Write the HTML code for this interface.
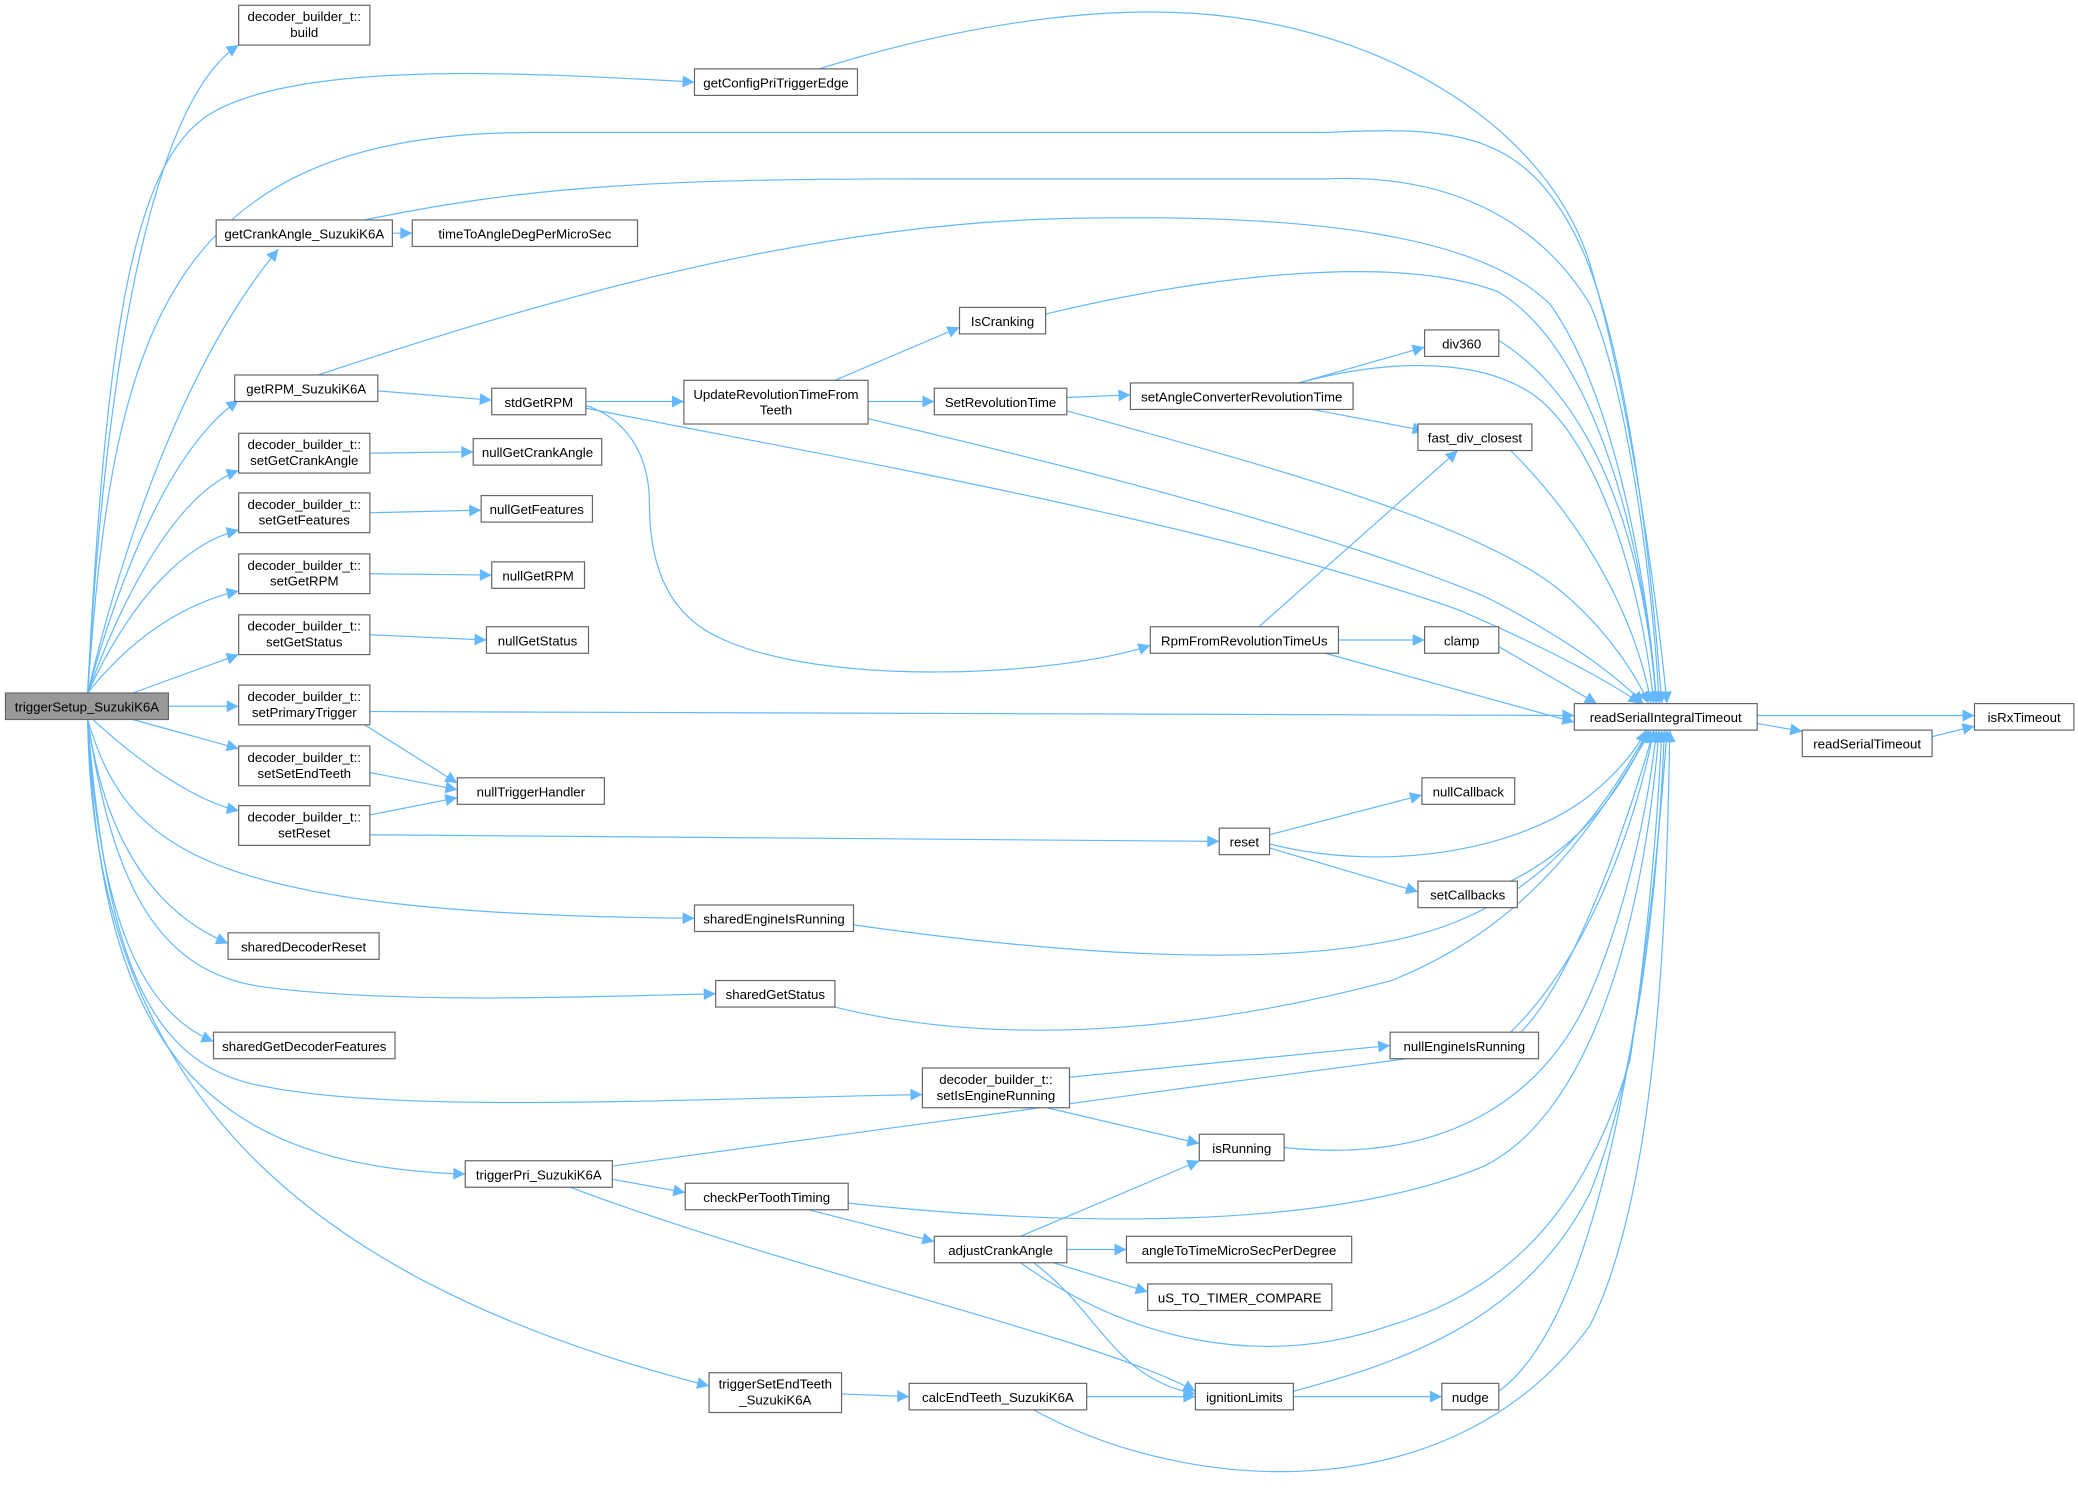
<!DOCTYPE html>
<html><head><meta charset="utf-8"><style>
html,body{margin:0;padding:0;background:#fff}
svg{display:block}
text{font-family:"Liberation Sans",Arial,sans-serif;font-size:10px;fill:#000;text-anchor:middle}
.b{fill:#fff;stroke:#666;stroke-width:0.9}
.e{fill:none;stroke:#63b8ff;stroke-width:0.9;marker-end:url(#a)}
</style></head><body>
<svg width="2078" height="1492" viewBox="0 0 1568 1126" xmlns="http://www.w3.org/2000/svg">
<defs><marker id="a" viewBox="0 0 10 10" refX="10" refY="5" markerWidth="11" markerHeight="9" markerUnits="userSpaceOnUse" orient="auto"><path d="M0,0 L10,5 L0,10 z" fill="#63b8ff"/></marker></defs>
<g>
<path class="e" d="M66,523 C78,300 110,80 180,34"/>
<path class="e" d="M66,523 C80,250 100,120 160,85 C230,45 400,55 524,62"/>
<path class="e" d="M66,523 C85,260 120,100 400,100 L1000,100 C1100,95 1150,100 1190,180 C1230,260 1248,450 1254,531"/>
<path class="e" d="M66,523 C100,380 150,260 210,188"/>
<path class="e" d="M66,523 C100,400 140,330 180,302"/>
<path class="e" d="M66,523 C100,430 140,370 180,355"/>
<path class="e" d="M66,523 C100,450 140,410 180,400"/>
<path class="e" d="M66,523 C100,480 140,455 180,446"/>
<path class="e" d="M100,523 L180,494"/>
<path class="e" d="M127,533 L180,533"/>
<path class="e" d="M100,543 L180,565"/>
<path class="e" d="M70,543 C110,580 150,605 180,612"/>
<path class="e" d="M66,543 C95,640 150,690 524,693"/>
<path class="e" d="M66,543 C80,640 120,690 172,712"/>
<path class="e" d="M66,543 C85,670 120,735 200,745 C300,758 450,752 540,750"/>
<path class="e" d="M66,543 C75,700 110,765 161,786"/>
<path class="e" d="M66,543 C80,720 110,805 200,820 C300,840 500,830 696,826"/>
<path class="e" d="M66,543 C75,760 130,880 351,886"/>
<path class="e" d="M66,543 C70,800 200,960 535,1046"/>
<path class="e" d="M618,52 C720,20 820,5 900,10 C1050,20 1170,100 1200,200 C1230,300 1250,450 1258,531"/>
<path class="e" d="M275,166 C400,140 500,135 700,135 L1000,135 C1110,130 1170,180 1200,230 C1230,300 1248,450 1252,531"/>
<path class="e" d="M296,176 L311,176"/>
<path class="e" d="M240,283 C400,230 600,170 800,165 C1000,160 1120,180 1170,230 C1220,300 1245,450 1250,531"/>
<path class="e" d="M285,295 L371,302"/>
<path class="e" d="M442,303 L516,303"/>
<path class="e" d="M442,308 C600,340 900,390 1100,460 C1170,490 1215,515 1238,531"/>
<path class="e" d="M442,306 C470,315 490,340 490,380 C490,420 500,460 540,480 C620,520 800,510 868,487"/>
<path class="e" d="M630,287 L724,247"/>
<path class="e" d="M655,303 L705,303"/>
<path class="e" d="M655,316 C800,350 1000,400 1120,450 C1180,480 1220,510 1240,531"/>
<path class="e" d="M789,237 C900,210 1050,190 1130,220 C1200,260 1240,400 1250,531"/>
<path class="e" d="M805,300 L853,298"/>
<path class="e" d="M805,310 C950,350 1100,390 1170,440 C1210,470 1235,510 1244,531"/>
<path class="e" d="M980,289 L1075,262"/>
<path class="e" d="M990,309 L1075,325"/>
<path class="e" d="M980,289 C1050,270 1120,270 1160,300 C1210,340 1240,450 1248,531"/>
<path class="e" d="M1131,257 C1200,300 1240,400 1250,531"/>
<path class="e" d="M1140,340 C1200,400 1235,470 1246,531"/>
<path class="e" d="M950,473 L1100,340"/>
<path class="e" d="M1010,483 L1075,483"/>
<path class="e" d="M1000,493 L1188,545"/>
<path class="e" d="M1131,488 L1205,531"/>
<path class="e" d="M279,342 L357,341"/>
<path class="e" d="M279,387 L363,385"/>
<path class="e" d="M279,433 L371,434"/>
<path class="e" d="M279,479 L367,483"/>
<path class="e" d="M279,537 L1188,540"/>
<path class="e" d="M275,547 L345,591"/>
<path class="e" d="M279,583 L345,596"/>
<path class="e" d="M279,615 L345,602"/>
<path class="e" d="M279,630 L920,635"/>
<path class="e" d="M958,630 L1073,600"/>
<path class="e" d="M958,640 L1070,673"/>
<path class="e" d="M958,637 C1050,660 1150,640 1200,600 C1225,580 1238,560 1242,551"/>
<path class="e" d="M1140,665 C1190,640 1222,600 1244,551"/>
<path class="e" d="M644,698 C800,720 950,730 1050,710 C1150,690 1200,630 1244,551"/>
<path class="e" d="M630,760 C750,790 900,780 1050,740 C1150,700 1200,630 1246,551"/>
<path class="e" d="M807,813 L1049,789"/>
<path class="e" d="M790,836 L905,863"/>
<path class="e" d="M1140,779 C1200,720 1235,620 1248,551"/>
<path class="e" d="M969,866 C1100,880 1170,820 1200,750 C1230,680 1245,600 1250,551"/>
<path class="e" d="M462,880 C600,860 900,820 1130,790 C1170,780 1220,650 1248,551"/>
<path class="e" d="M462,890 L517,900"/>
<path class="e" d="M430,896 C600,960 830,1010 902,1050"/>
<path class="e" d="M610,913 L705,937"/>
<path class="e" d="M640,908 C800,925 1000,930 1120,880 C1200,840 1240,700 1252,551"/>
<path class="e" d="M770,933 L905,876"/>
<path class="e" d="M805,943 L850,943"/>
<path class="e" d="M795,953 L866,975"/>
<path class="e" d="M780,953 C830,990 840,1040 902,1052"/>
<path class="e" d="M770,953 C850,1010 950,1035 1050,1000 C1150,970 1200,900 1230,800 C1245,700 1252,600 1254,551"/>
<path class="e" d="M635,1052 L686,1054"/>
<path class="e" d="M820,1054 L902,1054"/>
<path class="e" d="M780,1064 C900,1130 1100,1140 1200,1000 C1250,900 1258,700 1260,551"/>
<path class="e" d="M976,1054 L1088,1054"/>
<path class="e" d="M976,1050 C1050,1030 1150,1000 1200,900 C1240,800 1252,650 1256,551"/>
<path class="e" d="M1131,1050 C1200,1000 1240,800 1258,551"/>
<path class="e" d="M1326,540 L1490,540"/>
<path class="e" d="M1326,546 L1360,552"/>
<path class="e" d="M1458,556 L1490,548"/>
</g>
<g>
<rect x="4" y="523" width="123" height="20" fill="#999" stroke="#666" stroke-width="0.9"/><text x="65.5" y="537">triggerSetup_SuzukiK6A</text>
<rect class="b" x="180" y="4" width="99" height="30"/><text x="229.5" y="16">decoder_builder_t::</text><text x="229.5" y="28">build</text>
<rect class="b" x="524" y="52" width="123" height="20"/><text x="585.5" y="66">getConfigPriTriggerEdge</text>
<rect class="b" x="163" y="166" width="133" height="20"/><text x="229.5" y="180">getCrankAngle_SuzukiK6A</text>
<rect class="b" x="311" y="166" width="170" height="20"/><text x="396" y="180">timeToAngleDegPerMicroSec</text>
<rect class="b" x="177" y="283" width="108" height="20"/><text x="231" y="297">getRPM_SuzukiK6A</text>
<rect class="b" x="371" y="293" width="71" height="20"/><text x="406.5" y="307">stdGetRPM</text>
<rect class="b" x="516" y="287" width="139" height="33"/><text x="585.5" y="301">UpdateRevolutionTimeFrom</text><text x="585.5" y="313">Teeth</text>
<rect class="b" x="724" y="232" width="65" height="20"/><text x="756.5" y="246">IsCranking</text>
<rect class="b" x="705" y="293" width="100" height="20"/><text x="755" y="307">SetRevolutionTime</text>
<rect class="b" x="853" y="289" width="168" height="20"/><text x="937" y="303">setAngleConverterRevolutionTime</text>
<rect class="b" x="1075" y="249" width="56" height="20"/><text x="1103" y="263">div360</text>
<rect class="b" x="1070" y="320" width="86" height="20"/><text x="1113" y="334">fast_div_closest</text>
<rect class="b" x="180" y="327" width="99" height="30"/><text x="229.5" y="339">decoder_builder_t::</text><text x="229.5" y="351">setGetCrankAngle</text>
<rect class="b" x="357" y="331" width="97" height="20"/><text x="405.5" y="345">nullGetCrankAngle</text>
<rect class="b" x="180" y="372" width="99" height="30"/><text x="229.5" y="384">decoder_builder_t::</text><text x="229.5" y="396">setGetFeatures</text>
<rect class="b" x="363" y="374" width="84" height="20"/><text x="405" y="388">nullGetFeatures</text>
<rect class="b" x="180" y="418" width="99" height="30"/><text x="229.5" y="430">decoder_builder_t::</text><text x="229.5" y="442">setGetRPM</text>
<rect class="b" x="371" y="424" width="70" height="20"/><text x="406" y="438">nullGetRPM</text>
<rect class="b" x="180" y="464" width="99" height="30"/><text x="229.5" y="476">decoder_builder_t::</text><text x="229.5" y="488">setGetStatus</text>
<rect class="b" x="367" y="473" width="77" height="20"/><text x="405.5" y="487">nullGetStatus</text>
<rect class="b" x="180" y="517" width="99" height="30"/><text x="229.5" y="529">decoder_builder_t::</text><text x="229.5" y="541">setPrimaryTrigger</text>
<rect class="b" x="180" y="563" width="99" height="30"/><text x="229.5" y="575">decoder_builder_t::</text><text x="229.5" y="587">setSetEndTeeth</text>
<rect class="b" x="345" y="587" width="111" height="20"/><text x="400.5" y="601">nullTriggerHandler</text>
<rect class="b" x="180" y="608" width="99" height="30"/><text x="229.5" y="620">decoder_builder_t::</text><text x="229.5" y="632">setReset</text>
<rect class="b" x="920" y="625" width="38" height="20"/><text x="939" y="639">reset</text>
<rect class="b" x="1073" y="587" width="70" height="20"/><text x="1108" y="601">nullCallback</text>
<rect class="b" x="1070" y="665" width="75" height="20"/><text x="1107.5" y="679">setCallbacks</text>
<rect class="b" x="868" y="473" width="142" height="20"/><text x="939" y="487">RpmFromRevolutionTimeUs</text>
<rect class="b" x="1075" y="473" width="56" height="20"/><text x="1103" y="487">clamp</text>
<rect class="b" x="1188" y="531" width="138" height="20"/><text x="1257" y="545">readSerialIntegralTimeout</text>
<rect class="b" x="1360" y="551" width="98" height="20"/><text x="1409" y="565">readSerialTimeout</text>
<rect class="b" x="1490" y="531" width="75" height="20"/><text x="1527.5" y="545">isRxTimeout</text>
<rect class="b" x="524" y="683" width="120" height="20"/><text x="584" y="697">sharedEngineIsRunning</text>
<rect class="b" x="172" y="704" width="114" height="20"/><text x="229" y="718">sharedDecoderReset</text>
<rect class="b" x="540" y="740" width="90" height="20"/><text x="585" y="754">sharedGetStatus</text>
<rect class="b" x="161" y="779" width="137" height="20"/><text x="229.5" y="793">sharedGetDecoderFeatures</text>
<rect class="b" x="696" y="806" width="111" height="30"/><text x="751.5" y="818">decoder_builder_t::</text><text x="751.5" y="830">setIsEngineRunning</text>
<rect class="b" x="1049" y="779" width="112" height="20"/><text x="1105" y="793">nullEngineIsRunning</text>
<rect class="b" x="905" y="856" width="64" height="20"/><text x="937" y="870">isRunning</text>
<rect class="b" x="351" y="876" width="111" height="20"/><text x="406.5" y="890">triggerPri_SuzukiK6A</text>
<rect class="b" x="517" y="893" width="123" height="20"/><text x="578.5" y="907">checkPerToothTiming</text>
<rect class="b" x="705" y="933" width="100" height="20"/><text x="755" y="947">adjustCrankAngle</text>
<rect class="b" x="850" y="933" width="170" height="20"/><text x="935" y="947">angleToTimeMicroSecPerDegree</text>
<rect class="b" x="866" y="969" width="139" height="20"/><text x="935.5" y="983">uS_TO_TIMER_COMPARE</text>
<rect class="b" x="535" y="1036" width="100" height="30"/><text x="585" y="1048">triggerSetEndTeeth</text><text x="585" y="1060">_SuzukiK6A</text>
<rect class="b" x="686" y="1044" width="134" height="20"/><text x="753" y="1058">calcEndTeeth_SuzukiK6A</text>
<rect class="b" x="902" y="1044" width="74" height="20"/><text x="939" y="1058">ignitionLimits</text>
<rect class="b" x="1088" y="1044" width="43" height="20"/><text x="1109.5" y="1058">nudge</text>
</g>
</svg>
</body></html>
